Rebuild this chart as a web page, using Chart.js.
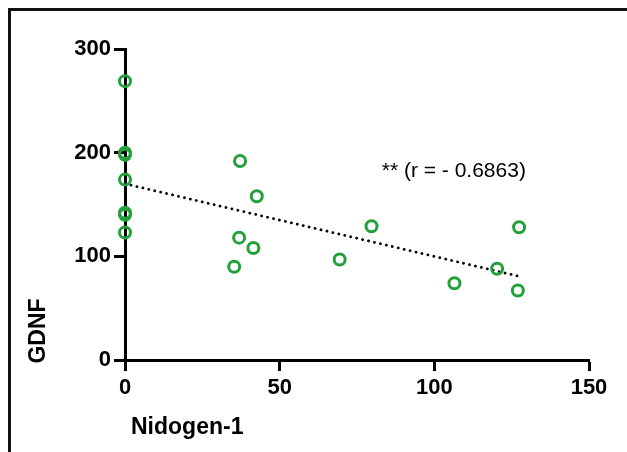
<!DOCTYPE html>
<html>
<head>
<meta charset="utf-8">
<script src="https://cdn.jsdelivr.net/npm/chart.js@4.4.1/dist/chart.umd.min.js"></script>
<style>
html, body { margin: 0; padding: 0; background: #fff; }
#wrap { position: relative; width: 627px; height: 452px; overflow: hidden; }
#frame { position: absolute; left: 8px; top: 8px; width: 700px; height: 500px; border-top: 3px solid #111; border-left: 3px solid #111; }
canvas { position: absolute; left: 0; top: 0; }
</style>
</head>
<body>
<div id="wrap">
  <div id="frame"></div>
  <canvas id="scatterChart" width="627" height="452"></canvas>
</div>
<script>
// values
var nidogen = [0, 0, 0, 0, 0, 0, 0, 35.3, 36.9, 37.2, 41.5, 42.6, 69.4, 79.7, 106.5, 120.3, 127.4, 127];
var gdnf = [269, 200, 198, 174, 142, 140, 123, 90, 118, 192, 108, 158, 97, 129, 74, 88, 128, 67];
var trendX = [0, 127];
var trendY = [170, 81];
var xTicks = [0, 50, 100, 150];
var yTicks = [0, 100, 200, 300];
var xTitle = 'Nidogen-1';
var yTitle = 'GDNF';
var note = '** (r = - 0.6863)';
var notePos = [83, 177];

window.onload = function() {
    var ctx = document.getElementById('scatterChart').getContext('2d');
    var tickFont = { family: "'Liberation Sans', Arial, sans-serif", size: 22, weight: 'bold' };

    var points = nidogen.map(function(x, i) { return { x: x, y: gdnf[i] }; });
    var trend = trendX.map(function(x, i) { return { x: x, y: trendY[i] }; });

    var titlesPlugin = {
        id: 'titles',
        afterDraw: function(chart) {
            var c = chart.ctx;
            var xs = chart.scales.x, ys = chart.scales.y;
            c.save();
            c.fillStyle = '#000';
            c.font = "bold 23px 'Liberation Sans', Arial, sans-serif";
            c.textBaseline = 'alphabetic';
            c.textAlign = 'left';
            c.fillText(xTitle, 131, 434);
            c.save();
            c.translate(45, 331);
            c.rotate(-Math.PI / 2);
            c.textAlign = 'center';
            c.fillText(yTitle, 0, 0);
            c.restore();
            c.font = "21px 'Liberation Sans', Arial, sans-serif";
            c.textAlign = 'left';
            c.fillText(note, xs.getPixelForValue(notePos[0]), ys.getPixelForValue(notePos[1]));
            c.restore();
        }
    };

    var scatterChart = new Chart(ctx, {
        type: 'scatter',
        data: {
            datasets: [{
                data: points,
                order: 0,
                clip: false,
                pointStyle: 'circle',
                pointRadius: 5.5,
                pointHoverRadius: 5.5,
                pointBorderWidth: 3,
                pointBackgroundColor: 'rgba(0,0,0,0)',
                pointBorderColor: '#22a13a'
            }, {
                data: trend,
                order: 1,
                showLine: true,
                pointRadius: 0,
                borderColor: '#000',
                borderWidth: 2.8,
                borderDash: [0.1, 6],
                borderCapStyle: 'round'
            }]
        },
        options: {
            responsive: false,
            animation: false,
            layout: { padding: { left: 73, right: 38, top: 49, bottom: 52 } },
            plugins: {
                legend: { display: false },
                tooltip: { enabled: false }
            },
            scales: {
                x: {
                    type: 'linear',
                    min: 0,
                    max: 150,
                    afterBuildTicks: function(scale) {
                        scale.ticks = xTicks.map(function(v) { return { value: v }; });
                    },
                    afterFit: function(scale) { scale.height = 40; },
                    grid: { drawOnChartArea: false, drawTicks: true, tickLength: 11, tickWidth: 3, tickColor: '#000' },
                    border: { display: true, width: 3, color: '#000' },
                    ticks: { font: tickFont, color: '#000', padding: 4, maxRotation: 0 }
                },
                y: {
                    type: 'linear',
                    min: 0,
                    max: 300,
                    afterBuildTicks: function(scale) {
                        scale.ticks = yTicks.map(function(v) { return { value: v }; });
                    },
                    afterFit: function(scale) { scale.width = 52; },
                    grid: { drawOnChartArea: false, drawTicks: true, tickLength: 11, tickWidth: 3, tickColor: '#000' },
                    border: { display: true, width: 3, color: '#000' },
                    ticks: { font: tickFont, color: '#000', padding: 3 }
                }
            }
        },
        plugins: [titlesPlugin]
    });
};
</script>
</body>
</html>
